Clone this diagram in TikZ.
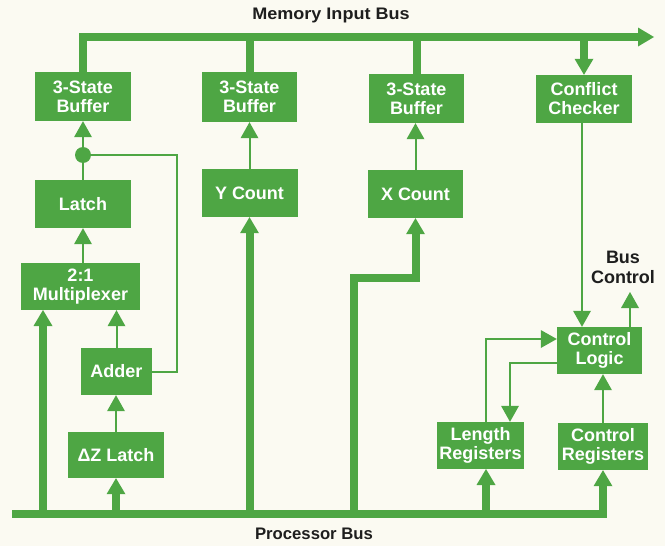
\documentclass[tikz,border=0pt]{standalone}
\usepackage{fontspec}
\setmainfont{Liberation Sans}
\usetikzlibrary{arrows.meta,calc}
\definecolor{hpgreen}{RGB}{78,166,68}
\definecolor{bgcream}{RGB}{251,250,242}
\definecolor{lbltext}{RGB}{30,30,30}
\newcommand{\boxfnt}{\fontsize{18}{19}\selectfont\bfseries}
\newcommand{\lblfnt}{\fontsize{16.7}{18}\selectfont\bfseries}
\tikzset{
  blk/.style={fill=hpgreen, text=white, font=\boxfnt, align=center, inner sep=0pt},
  thinln/.style={draw=hpgreen, line width=2pt},
  busln/.style={draw=hpgreen, line width=8pt},
  tipthin/.style={-{Triangle[width=18pt,length=16pt,line width=0pt]}},
  tipbus/.style={-{Triangle[width=19pt,length=16pt,line width=0pt]}},
  lbl/.style={text=lbltext, font=\lblfnt, inner sep=0pt},
  lblbig/.style={text=lbltext, font=\fontsize{18}{20}\selectfont\bfseries, align=center, inner sep=0pt},
}
\begin{document}
\begin{tikzpicture}[x=1pt,y=-1pt]
\useasboundingbox (0,0) rectangle (665,546);
\fill[bgcream] (0,0) rectangle (665,546);

% blocks
\node[blk, minimum width=96pt, minimum height=49pt] (buf1) at (83,96.5) {3-State\\Buffer};
\node[blk, minimum width=95pt, minimum height=50pt] (buf2) at (249.5,97) {3-State\\Buffer};
\node[blk, minimum width=95pt, minimum height=49pt] (buf3) at (416.5,98.5) {3-State\\Buffer};
\node[blk, minimum width=96pt, minimum height=48pt] (cc) at (584,99) {Conflict\\Checker};
\node[blk, minimum width=96pt, minimum height=48pt] (latch) at (83,204) {Latch};
\node[blk, minimum width=119pt, minimum height=47pt] (mux) at (80.5,286.5) {2:1\\Multiplexer};
\node[blk, minimum width=71pt, minimum height=47pt] (adder) at (116.5,371.5) {Adder};
\node[blk, minimum width=96pt, minimum height=46pt] (dz) at (116,455) {ΔZ Latch};
\node[blk, minimum width=96pt, minimum height=48pt] (ycount) at (249.5,193) {Y Count};
\node[blk, minimum width=95pt, minimum height=48pt] (xcount) at (415.5,194) {X Count};
\node[blk, minimum width=85pt, minimum height=47pt] (cl) at (599.5,350.5) {Control\\Logic};
\node[blk, minimum width=87pt, minimum height=47pt] (lr) at (480.5,445.5) {Length\\Registers};
\node[blk, minimum width=90pt, minimum height=47pt] (cr) at (603,446.5) {Control\\Registers};

% labels
\node[lbl] (mib) at (331,15) {\scalebox{1.08}[1]{Memory Input Bus}};
\node[lbl] (pbl) at (314,534) {Processor Bus};
\node[lblbig] (bcl) at (623,267) {Bus\\Control};

% memory input bus
\coordinate (mbend) at (654,37);
\draw[busln, tipbus] (buf1.north) -- (buf1.north |- mbend) -- (mbend);
\draw[busln] (buf2.north) -- (buf2.north |- mbend);
\draw[busln] (buf3.north) -- (buf3.north |- mbend);
\draw[busln, tipbus] (cc.north |- mbend) -- (cc.north);

% processor bus
\coordinate (pbstart) at (12,514);
\draw[busln, tipbus] (pbstart) -- (pbstart -| cr.south) -- (cr.south);
\coordinate (muxin) at (43,310);
\draw[busln, tipbus] (muxin |- pbstart) -- (muxin);
\draw[busln, tipbus] (dz.south |- pbstart) -- (dz.south);
\draw[busln, tipbus] (ycount.south |- pbstart) -- (ycount.south);
\coordinate (xj) at (354,278);
\draw[busln, tipbus] (xj |- pbstart) -- (xj) -| (xcount.south);
\coordinate (lrin) at (486,469);
\draw[busln, tipbus] (lrin |- pbstart) -- (lrin);

% thin connections, left part
\draw[thinln, tipthin] (latch.north) -- (buf1.south);
\node[circle, fill=hpgreen, minimum size=16pt, inner sep=0pt] (dot) at (83,155) {};
\coordinate (fbc) at (177,262);
\draw[thinln] (dot.center) -| (fbc) |- (adder.east);
\draw[thinln, tipthin] (mux.north -| latch.south) -- (latch.south);
\draw[thinln, tipthin] (adder.north) -- (adder.north |- mux.south);
\draw[thinln, tipthin] (dz.north) -- (dz.north |- adder.south);
\draw[thinln, tipthin] (ycount.north) -- (ycount.north |- buf2.south);
\draw[thinln, tipthin] (xcount.north) -- (xcount.north |- buf3.south);

% thin connections, right part
\coordinate (ccx) at (582,0);
\draw[thinln, tipthin] (cc.south -| ccx) -- (cl.north -| ccx);
\coordinate (bc) at (630,292);
\draw[thinln, tipthin] (cl.north -| bc) -- (bc);
\draw[thinln, tipthin] (cr.north) -- (cr.north |- cl.south);
\coordinate (clo) at (510,363);
\draw[thinln, tipthin] (cl.west |- clo) -- (clo) -- (clo |- lr.north);
\coordinate (lri) at (486,339);
\draw[thinln, tipthin] (lr.north -| lri) -- (lri) -- (lri -| cl.west);
\end{tikzpicture}
\end{document}
